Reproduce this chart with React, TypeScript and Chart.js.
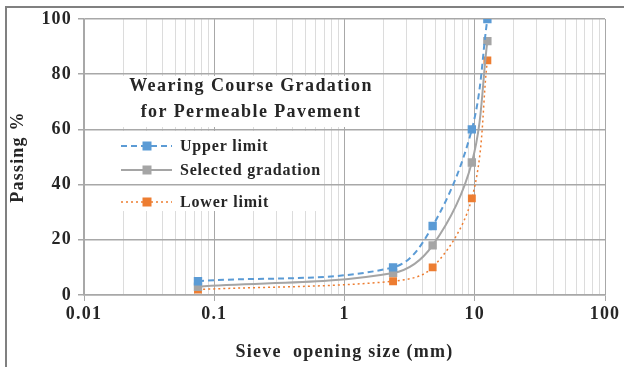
import { useEffect, useRef } from "react";
import { Chart, registerables } from "chart.js";
Chart.register(...registerables);

// ---- data ----
const sieveSizes = [0.075, 2.36, 4.75, 9.5, 12.5];
const upperLimit = [5, 10, 25, 60, 100];
const selectedGradation = [3, 8, 18, 48, 92];
const lowerLimit = [2, 5, 10, 35, 85];
const seriesNames = ["Upper limit", "Selected gradation", "Lower limit"];
const seriesColors = ["#5B9BD5", "#A5A5A5", "#ED7D31"];
const yTickValues = [0, 20, 40, 60, 80, 100];
const xMajorTicks = [0.01, 0.1, 1, 10, 100];
const xTickLabels = ["0.01", "0.1", "1", "10", "100"];
const minorMultipliers = [1, 2, 3, 4, 5, 6, 7, 8, 9];
const chartTitle = ["Wearing Course Gradation", "for Permeable Pavement"];
const xAxisTitle = "Sieve  opening size (mm)";
const yAxisTitle = "Passing %";

const TEXT = "#262626";
const FONT = "'Liberation Serif', 'Times New Roman', serif";
const GRID_MAJOR = "#a8a8a8";
const GRID_MINOR = "#dcdcdc";

const isMajor = (v: number) => {
  const l = Math.log10(v);
  return Math.abs(l - Math.round(l)) < 1e-9;
};

const alignPx = (p: number, w: number) => Math.round(p - w / 2) + w / 2;

const overlayPlugin = {
  id: "overlay",
  beforeDraw(chart: any) {
    chart.ctx.letterSpacing = "1.2px";
  },
  beforeDatasetsDraw(chart: any) {
    const { ctx, scales } = chart;
    const boxes = [
      [113, 76, 378, 127],
      [113, 131, 324, 211],
    ];
    ctx.save();
    ctx.fillStyle = "#ffffff";
    boxes.forEach(([x1, y1, x2, y2]) => ctx.fillRect(x1, y1, x2 - x1, y2 - y1));
    // redraw horizontal grid lines across the boxes
    ctx.strokeStyle = GRID_MAJOR;
    ctx.lineWidth = 1.5;
    yTickValues.forEach((v) => {
      const py = alignPx(scales.y.getPixelForValue(v), 1.5);
      boxes.forEach(([x1, y1, x2, y2]) => {
        if (py >= y1 - 1 && py <= y2 + 1) {
          ctx.beginPath();
          ctx.moveTo(x1, py);
          ctx.lineTo(x2, py);
          ctx.stroke();
        }
      });
    });
    ctx.restore();
  },
  afterDatasetsDraw(chart: any) {
    const { ctx } = chart;
    ctx.save();
    ctx.fillStyle = TEXT;
    ctx.textAlign = "center";
    ctx.textBaseline = "middle";
    ctx.font = `bold 18px ${FONT}`;
    ctx.letterSpacing = "1.4px";
    ctx.fillText(chartTitle[0], 251, 86);
    ctx.fillText(chartTitle[1], 251, 112);

    // legend
    const rows = [146, 170, 202];
    ctx.font = `bold 16px ${FONT}`;
    ctx.letterSpacing = "0.8px";
    chart.data.datasets.forEach((ds: any, i: number) => {
      const y = rows[i];
      ctx.save();
      ctx.strokeStyle = ds.borderColor;
      ctx.lineWidth = ds.borderWidth;
      ctx.setLineDash(ds.borderDash || []);
      ctx.beginPath();
      ctx.moveTo(121, y);
      ctx.lineTo(172, y);
      ctx.stroke();
      ctx.setLineDash([]);
      ctx.fillStyle = ds.pointBackgroundColor;
      ctx.fillRect(147 - 4.5, y - 4.5, 9, 9);
      ctx.restore();
      ctx.fillStyle = TEXT;
      ctx.textAlign = "left";
      ctx.fillText(ds.label, 180, y + 1);
    });
    ctx.restore();
  },
};

export default function App() {
  const ref = useRef<HTMLCanvasElement | null>(null);
  useEffect(() => {
    if (!ref.current) return;
    const seriesValues = [upperLimit, selectedGradation, lowerLimit];
    const dashes = [[6, 4], [], [2, 3]];
    const widths = [2, 2, 1.5];
    const chart = new Chart(ref.current, {
      type: "line",
      data: {
        datasets: seriesValues.map((vals, i) => ({
          label: seriesNames[i],
          data: sieveSizes.map((x, j) => ({ x, y: vals[j] })),
          borderColor: seriesColors[i],
          backgroundColor: seriesColors[i],
          pointBackgroundColor: seriesColors[i],
          pointBorderColor: seriesColors[i],
          borderWidth: widths[i],
          borderDash: dashes[i],
          pointStyle: "rect",
          pointRadius: 4.5,
          tension: 0.35,
          fill: false,
        })),
      },
      options: {
        animation: false,
        responsive: false,
        devicePixelRatio: 1,
        layout: { padding: { top: 19, right: 19, left: 0, bottom: 0 } },
        plugins: { legend: { display: false }, tooltip: { enabled: false }, title: { display: false } },
        scales: {
          x: {
            type: "logarithmic",
            min: 0.01,
            max: 100,
            afterBuildTicks: (scale: any) => {
              const ticks: any[] = [];
              xMajorTicks.forEach((m, k) => {
                if (k === xMajorTicks.length - 1) ticks.push({ value: m });
                else minorMultipliers.forEach((mult) => ticks.push({ value: +(m * mult).toPrecision(6) }));
              });
              scale.ticks = ticks;
            },
            afterFit: (scale: any) => {
              scale.height = 72;
            },
            ticks: {
              autoSkip: false,
              maxRotation: 0,
              minRotation: 0,
              padding: 3,
              color: TEXT,
              font: { family: FONT, size: 18, weight: "bold" },
              callback: (value: any) => {
                const idx = xMajorTicks.findIndex((m) => Math.abs(m - Number(value)) < 1e-9);
                return idx >= 0 ? xTickLabels[idx] : "";
              },
            },
            grid: {
              color: (c: any) => (c.tick && isMajor(c.tick.value) ? GRID_MAJOR : GRID_MINOR),
              tickColor: (c: any) => (c.tick && isMajor(c.tick.value) ? GRID_MAJOR : "rgba(0,0,0,0)"),
              tickLength: 6,
              lineWidth: 1,
            },
            border: { display: true, color: GRID_MAJOR, width: 1.5 },
            title: {
              display: true,
              text: xAxisTitle,
              color: TEXT,
              font: { family: FONT, size: 18, weight: "bold" },
              padding: { top: 0, bottom: 4 },
            },
          },
          y: {
            min: 0,
            max: 100,
            afterBuildTicks: (scale: any) => {
              scale.ticks = yTickValues.map((v) => ({ value: v }));
            },
            afterFit: (scale: any) => {
              scale.width = 84;
            },
            ticks: {
              padding: 6,
              color: TEXT,
              font: { family: FONT, size: 18, weight: "bold" },
            },
            grid: { color: GRID_MAJOR, tickColor: GRID_MAJOR, tickLength: 6, lineWidth: 1.5 },
            border: { display: true, color: GRID_MAJOR, width: 1.5 },
            title: {
              display: true,
              text: yAxisTitle,
              color: TEXT,
              font: { family: FONT, size: 18, weight: "bold" },
              padding: { top: 8, bottom: 0 },
            },
          },
        },
      } as any,
      plugins: [overlayPlugin],
    });
    return () => chart.destroy();
  }, []);

  return (
    <div style={{ position: "absolute", left: 0, top: 0, width: 624, height: 367, background: "#fff", overflow: "hidden" }}>
      <canvas ref={ref} width={624} height={367} style={{ display: "block", width: 624, height: 367 }} />
      <div
        style={{
          position: "absolute",
          left: 5,
          top: 6,
          width: 700,
          height: 500,
          borderLeft: "2px solid #808080",
          borderTop: "2px solid #808080",
          pointerEvents: "none",
        }}
      />
    </div>
  );
}
